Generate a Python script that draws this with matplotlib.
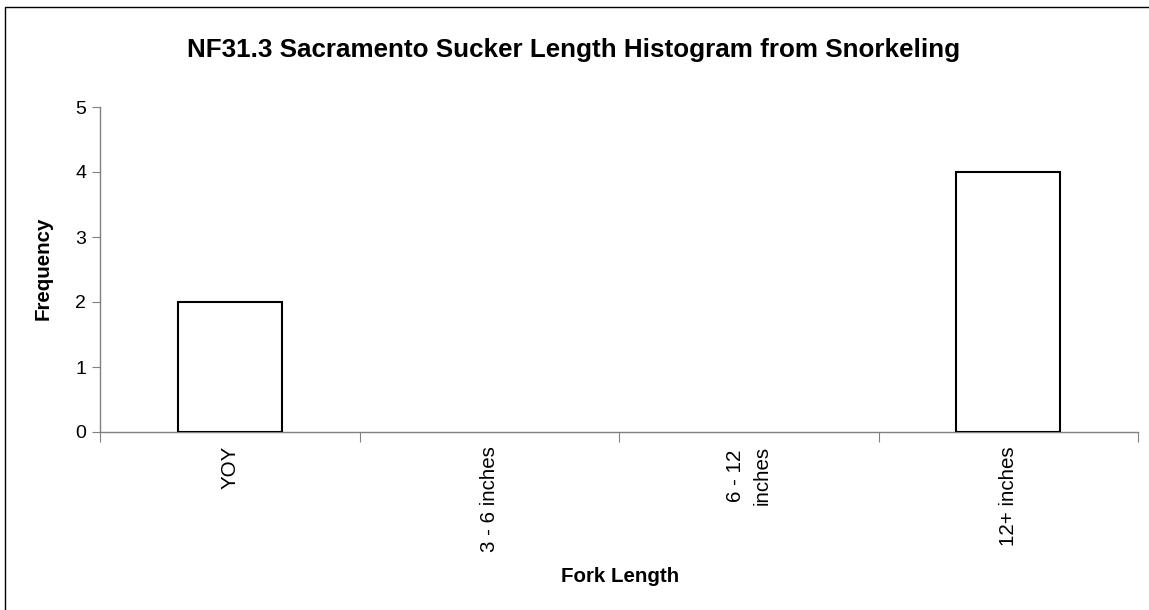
import matplotlib
matplotlib.use("Agg")
import matplotlib.pyplot as plt
from matplotlib.patches import Rectangle
import numpy as np

categories = ["YOY", "3 - 6 inches", "6 - 12\ninches", "12+ inches"]
frequency = [2, 0, 0, 4]
title = "NF31.3 Sacramento Sucker Length Histogram from Snorkeling"
xlabel = "Fork Length"
ylabel = "Frequency"

plt.rcParams['font.family'] = ['Liberation Sans', 'DejaVu Sans']

W, H = 1149, 610
fig = plt.figure(figsize=(W / 100, H / 100), dpi=100)
fig.patch.set_facecolor('white')

# outer border (chart area frame)
fig.patches.append(Rectangle((5 / W, -0.05), 1.2, (H - 7) / H + 0.05,
                             transform=fig.transFigure, fill=False,
                             edgecolor='black', linewidth=1.0))

ax = fig.add_axes([100 / W, (H - 432) / H, (1138 - 100) / W, (432 - 107) / H])
x = np.arange(len(categories))
lws = [1.5 if v > 0 else 0 for v in frequency]
ax.bar(x, frequency, width=0.4, color='white', edgecolor='black', linewidth=lws, zorder=3)

ax.set_xlim(-0.5, len(categories) - 0.5)
ax.set_ylim(0, 5)
ax.set_yticks(range(0, 6))
ax.tick_params(axis='y', direction='out', length=6, width=0.8, color='#808080',
               labelsize=14, pad=4)

ax.set_xticks(np.arange(-0.5, len(categories), 1.0))
ax.set_xticklabels([])
ax.tick_params(axis='x', which='major', direction='out', length=7, width=0.8, color='#808080')
ax.set_xticks(x, minor=True)
ax.set_xticklabels(categories, minor=True, rotation=90, fontsize=14.8,
                   va='top', ha='center', multialignment='center', linespacing=1.55)
ax.tick_params(axis='x', which='minor', length=0, pad=10)

for s in ['top', 'right']:
    ax.spines[s].set_visible(False)
for s in ['left', 'bottom']:
    ax.spines[s].set_color('#808080')
    ax.spines[s].set_linewidth(1.0)

fig.text(574 / W, 1 - 50 / H, title, ha='center', va='center', fontsize=18.7, fontweight='bold')
fig.text(620 / W, 1 - 577 / H, xlabel, ha='center', va='center', fontsize=14.8, fontweight='bold')
fig.text(43 / W, 1 - 268 / H, ylabel, ha='center', va='center', fontsize=14.8,
         fontweight='bold', rotation=90)

fig.savefig("out.png", dpi=100, facecolor='white')
